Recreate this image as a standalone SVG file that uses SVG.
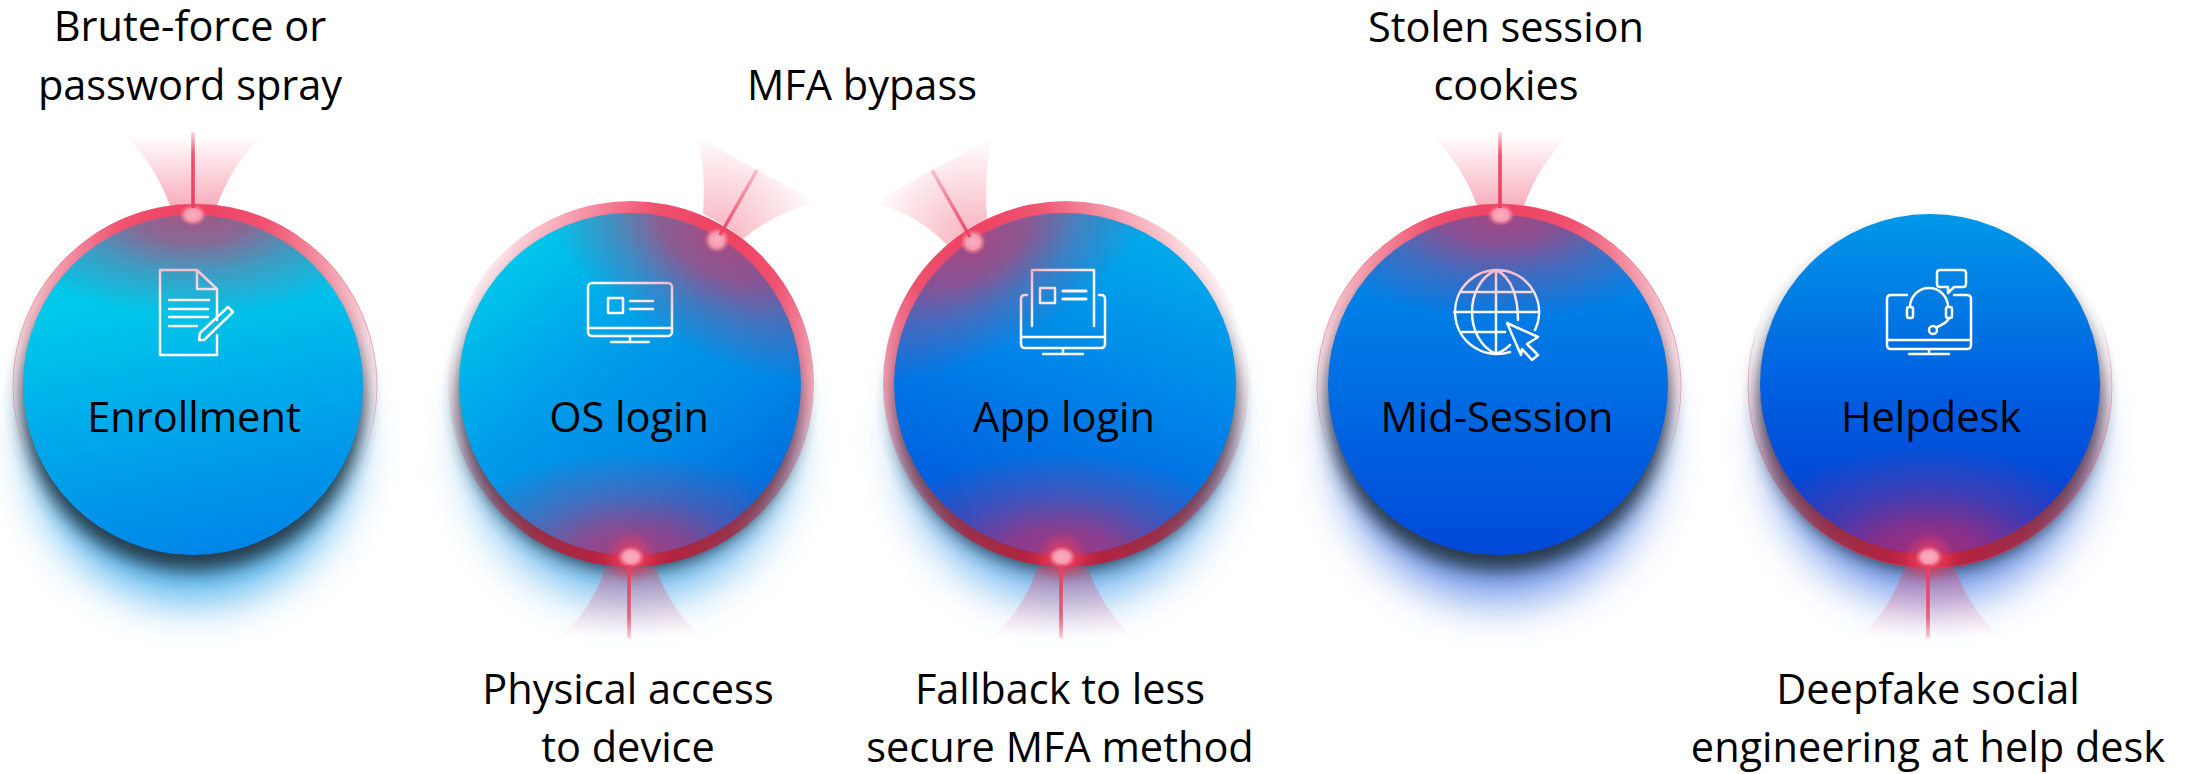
<svg xmlns="http://www.w3.org/2000/svg" xmlns:xlink="http://www.w3.org/1999/xlink" width="2197" height="774" viewBox="0 0 2197 774">
<style>
text{font-family:"Open Sans","Noto Sans","Liberation Sans",sans-serif;font-size:41.5px;fill:#000;text-anchor:middle}
.ic{fill:none;stroke:#fff;stroke-width:2.5;stroke-linejoin:round;stroke-linecap:round}
.ln{stroke-width:3.5;fill:none}
.sh{fill:#20303c;opacity:.92;filter:url(#b8)}
.gl{opacity:.85;filter:url(#b22)}
.edge{fill:none;stroke-width:1}
</style>
<defs>
<filter id="b8" x="-30%" y="-30%" width="160%" height="160%"><feGaussianBlur stdDeviation="9"/></filter>
<filter id="b22" x="-40%" y="-40%" width="180%" height="180%"><feGaussianBlur stdDeviation="22"/></filter>
<linearGradient id="g1" x1=".35" y1=".25" x2=".5" y2="1"><stop offset="0" stop-color="#00c8ea"/><stop offset=".5" stop-color="#00a6ea"/><stop offset="1" stop-color="#0086e8"/></linearGradient>
<linearGradient id="g2" x1=".1" y1=".15" x2=".75" y2="1"><stop offset="0" stop-color="#00c8ea"/><stop offset=".4" stop-color="#009cea"/><stop offset=".7" stop-color="#0088e6"/><stop offset="1" stop-color="#0068dc"/></linearGradient>
<linearGradient id="g3" x1=".75" y1=".1" x2=".45" y2="1"><stop offset="0" stop-color="#00a8ea"/><stop offset=".5" stop-color="#0080e8"/><stop offset="1" stop-color="#0058dc"/></linearGradient>
<linearGradient id="g4" x1=".5" y1="0" x2=".5" y2="1"><stop offset="0" stop-color="#0090e8"/><stop offset=".45" stop-color="#0072e4"/><stop offset="1" stop-color="#0048d8"/></linearGradient>
<linearGradient id="g5" x1=".5" y1="0" x2=".5" y2="1"><stop offset="0" stop-color="#0098e8"/><stop offset=".5" stop-color="#0060e0"/><stop offset="1" stop-color="#0038d0"/></linearGradient>
<radialGradient id="ov"><stop offset="0" stop-color="#e4285a" stop-opacity=".72"/><stop offset=".3" stop-color="#e4285a" stop-opacity=".6"/><stop offset=".6" stop-color="#e4285a" stop-opacity=".28"/><stop offset="1" stop-color="#e4285a" stop-opacity="0"/></radialGradient>
<radialGradient id="rg" gradientUnits="userSpaceOnUse" cx="0" cy="0" r="285"><stop offset="0" stop-color="#ee3f60"/><stop offset=".25" stop-color="#ee3f60" stop-opacity=".9"/><stop offset=".55" stop-color="#ee3f60" stop-opacity=".45"/><stop offset=".75" stop-color="#ee3f60" stop-opacity=".18"/><stop offset="1" stop-color="#ee3f60" stop-opacity="0"/></radialGradient>
<radialGradient id="rd" gradientUnits="userSpaceOnUse" cx="0" cy="0" r="285"><stop offset="0" stop-color="#e2304f"/><stop offset=".13" stop-color="#b42340"/><stop offset=".35" stop-color="#a82a45" stop-opacity=".85"/><stop offset=".55" stop-color="#b04058" stop-opacity=".45"/><stop offset=".75" stop-color="#d05070" stop-opacity=".18"/><stop offset="1" stop-color="#ee3f60" stop-opacity="0"/></radialGradient>
<radialGradient id="r1" xlink:href="#rg" cx="193" cy="215"/>
<radialGradient id="r2a" xlink:href="#rg" cx="717" cy="240"/>
<radialGradient id="r2b" xlink:href="#rd" cx="631" cy="557"/>
<radialGradient id="r3a" xlink:href="#rg" cx="973" cy="242"/>
<radialGradient id="r3b" xlink:href="#rd" cx="1062" cy="557"/>
<radialGradient id="r4" xlink:href="#rg" cx="1501" cy="215"/>
<radialGradient id="r5" xlink:href="#rd" cx="1929" cy="557"/>
<linearGradient id="sT" x1="0" y1="0" x2="0" y2="1"><stop offset="0" stop-color="#ee3f60" stop-opacity=".5"/><stop offset=".55" stop-color="#ee3f60" stop-opacity=".35"/><stop offset=".72" stop-color="#ee3f60" stop-opacity="0"/></linearGradient>
<linearGradient id="sB" x1="0" y1="1" x2="0" y2="0"><stop offset="0" stop-color="#ee3f60" stop-opacity=".5"/><stop offset=".55" stop-color="#ee3f60" stop-opacity=".35"/><stop offset=".72" stop-color="#ee3f60" stop-opacity="0"/></linearGradient>
<radialGradient id="halo"><stop offset="0" stop-color="#ee3f60" stop-opacity=".85"/><stop offset=".5" stop-color="#ee3f60" stop-opacity=".5"/><stop offset="1" stop-color="#ee3f60" stop-opacity="0"/></radialGradient>
<radialGradient id="dot"><stop offset="0" stop-color="#f9b0c0"/><stop offset=".55" stop-color="#f79cb0"/><stop offset="1" stop-color="#f4708a" stop-opacity="0"/></radialGradient>
<linearGradient id="fu" x1="0" y1="1" x2="0" y2="0"><stop offset="0" stop-color="#ee3f60" stop-opacity=".42"/><stop offset="1" stop-color="#ee3f60" stop-opacity="0"/></linearGradient>
<linearGradient id="fd" x1="0" y1="0" x2="0" y2="1"><stop offset="0" stop-color="#e83a60" stop-opacity=".4"/><stop offset="1" stop-color="#e83a60" stop-opacity="0"/></linearGradient>
<linearGradient id="lu" x1="0" y1="1" x2="0" y2="0"><stop offset="0" stop-color="#ee3f60"/><stop offset=".7" stop-color="#ee3f60" stop-opacity=".9"/><stop offset="1" stop-color="#ee3f60" stop-opacity=".2"/></linearGradient>
<linearGradient id="ld" x1="0" y1="0" x2="0" y2="1"><stop offset="0" stop-color="#ee3f60"/><stop offset=".7" stop-color="#ee3f60" stop-opacity=".8"/><stop offset="1" stop-color="#ee3f60" stop-opacity=".25"/></linearGradient>
<radialGradient id="fa" gradientUnits="userSpaceOnUse" cx="717" cy="240" r="106"><stop offset="0" stop-color="#ee3f60" stop-opacity=".42"/><stop offset="1" stop-color="#ee3f60" stop-opacity="0"/></radialGradient>
<radialGradient id="fb" gradientUnits="userSpaceOnUse" cx="973" cy="242" r="106"><stop offset="0" stop-color="#ee3f60" stop-opacity=".42"/><stop offset="1" stop-color="#ee3f60" stop-opacity="0"/></radialGradient>
<linearGradient id="la" gradientUnits="userSpaceOnUse" x1="717" y1="240" x2="757" y2="170"><stop offset="0" stop-color="#ee3f60"/><stop offset="1" stop-color="#ee3f60" stop-opacity=".25"/></linearGradient>
<linearGradient id="lb" gradientUnits="userSpaceOnUse" x1="973" y1="242" x2="932" y2="170"><stop offset="0" stop-color="#ee3f60"/><stop offset="1" stop-color="#ee3f60" stop-opacity=".25"/></linearGradient>
<clipPath id="c1"><circle cx="193" cy="385" r="170"/></clipPath>
<clipPath id="c2"><circle cx="630" cy="384" r="171"/></clipPath>
<clipPath id="c3"><circle cx="1065" cy="384" r="171"/></clipPath>
<clipPath id="c4"><circle cx="1498" cy="385" r="170"/></clipPath>
<clipPath id="c5"><circle cx="1930" cy="384" r="170"/></clipPath>
</defs>
<rect width="2197" height="774" fill="#fff"/>

<g id="enrollment">
<circle cx="193" cy="442" r="160" fill="#38a8ec" class="gl"/>
<circle cx="193" cy="400" r="171" class="sh"/>
<circle cx="195" cy="386" r="182" fill="url(#r1)"/>
<circle cx="195" cy="386" r="182" class="edge" stroke="url(#sT)"/>
<circle cx="193" cy="385" r="170" fill="url(#g1)"/>
<g class="ic"><path d="M217 320V289L197 270H160V355H217V335M197 270V289H217M169 300H209M169 309H208M169 317H208M169 326H197M200 333L228 307L233 312L204 340H199Z"/></g>
<g clip-path="url(#c1)"><ellipse cx="193" cy="210" rx="210" ry="105" fill="url(#ov)"/></g>
<ellipse cx="193" cy="215" rx="14" ry="11" fill="url(#dot)"/>
<text x="194" y="432">Enrollment</text>
</g>

<g id="os-login">
<circle cx="630" cy="442" r="160" fill="#58b0ee" class="gl"/>
<circle cx="630" cy="400" r="171" class="sh"/>
<circle cx="631" cy="384" r="183" fill="url(#r2a)"/>
<circle cx="631" cy="384" r="183" fill="url(#r2b)"/>
<circle cx="630" cy="384" r="171" fill="url(#g2)"/>
<g class="ic"><rect x="588" y="283" width="84" height="53" rx="4"/><path d="M588 328H672M630 336V342M611 342H649M630 301H653M630 309H653"/><rect x="608" y="298" width="15" height="15"/></g>
<g clip-path="url(#c2)"><ellipse cx="717" cy="240" rx="210" ry="110" transform="rotate(30 717 240)" fill="url(#ov)"/><ellipse cx="631" cy="562" rx="200" ry="110" fill="url(#ov)"/></g>
<circle cx="631" cy="557" r="26" fill="url(#halo)"/>
<circle cx="717" cy="240" r="13" fill="url(#dot)"/>
<ellipse cx="631" cy="557" rx="14" ry="11" fill="url(#dot)"/>
<text x="629" y="432">OS login</text>
</g>

<g id="app-login">
<circle cx="1065" cy="442" r="160" fill="#58a8ee" class="gl"/>
<circle cx="1065" cy="400" r="171" class="sh"/>
<circle cx="1066" cy="384" r="183" fill="url(#r3a)"/>
<circle cx="1066" cy="384" r="183" fill="url(#r3b)"/>
<circle cx="1065" cy="384" r="171" fill="url(#g3)"/>
<g class="ic"><path d="M1032 326V270H1094V326M1027 295H1025Q1021 295 1021 299V344Q1021 348 1025 348H1101Q1105 348 1105 344V299Q1105 295 1101 295H1099M1021 337H1105M1063 348V354M1043 354H1083"/><rect x="1040" y="288" width="15" height="15"/><path d="M1063 291H1086M1063 299H1086" style="stroke-width:3.2"/></g>
<g clip-path="url(#c3)"><ellipse cx="973" cy="242" rx="210" ry="110" transform="rotate(-30 973 242)" fill="url(#ov)"/><ellipse cx="1062" cy="562" rx="200" ry="110" fill="url(#ov)"/></g>
<circle cx="1062" cy="557" r="26" fill="url(#halo)"/>
<circle cx="973" cy="242" r="13" fill="url(#dot)"/>
<ellipse cx="1062" cy="557" rx="14" ry="11" fill="url(#dot)"/>
<text x="1064" y="432">App login</text>
</g>

<g id="mid-session">
<circle cx="1498" cy="442" r="160" fill="#5a88e8" class="gl"/>
<circle cx="1498" cy="400" r="171" class="sh"/>
<circle cx="1499" cy="386" r="182" fill="url(#r4)"/>
<circle cx="1499" cy="386" r="182" class="edge" stroke="url(#sT)"/>
<circle cx="1498" cy="385" r="170" fill="url(#g4)"/>
<g class="ic"><path d="M1535 330A42 42 0 1 0 1510 352M1496 270V354M1496 270C1464 284 1464 340 1496 354M1496 354Q1504 351 1510 345M1496 270C1512 277 1518 298 1518 320M1461 292H1531M1454 312H1538M1462 332H1505M1507 323L1538 337L1527 344L1538 355L1532 360L1522 349L1521 355Z"/></g>
<g clip-path="url(#c4)"><ellipse cx="1501" cy="210" rx="210" ry="110" fill="url(#ov)"/></g>
<ellipse cx="1501" cy="215" rx="14" ry="11" fill="url(#dot)"/>
<text x="1497" y="432">Mid-Session</text>
</g>

<g id="helpdesk">
<circle cx="1930" cy="442" r="160" fill="#5a88e8" class="gl"/>
<circle cx="1930" cy="400" r="171" class="sh"/>
<circle cx="1930" cy="386" r="182" fill="url(#r5)"/>
<circle cx="1930" cy="386" r="182" class="edge" stroke="url(#sB)"/>
<circle cx="1930" cy="384" r="170" fill="url(#g5)"/>
<g class="ic"><path d="M1907 295H1891Q1887 295 1887 299V345Q1887 349 1891 349H1967Q1971 349 1971 345V299Q1971 295 1967 295H1954M1887 340H1971M1929 349V354M1909 354H1949M1910 307A19 19 0 0 1 1948 307M1949 318Q1947 323 1937 327M1948 293V287H1940Q1937 287 1937 284V273Q1937 270 1940 270H1963Q1966 270 1966 273V284Q1966 287 1963 287H1954Z"/><rect x="1907" y="307" width="6" height="11" rx="2"/><rect x="1946" y="307" width="6" height="11" rx="2"/><circle cx="1933" cy="330" r="4"/></g>
<g clip-path="url(#c5)"><ellipse cx="1929" cy="562" rx="200" ry="115" fill="url(#ov)"/></g>
<circle cx="1929" cy="557" r="26" fill="url(#halo)"/>
<ellipse cx="1929" cy="557" rx="14" ry="11" fill="url(#dot)"/>
<text x="1931" y="432">Helpdesk</text>
</g>

<g id="connectors">
<path d="M170 205.6Q155 165 125 135H262Q232 165 217 205.5A182 182 0 0 0 170 205.6Z" fill="url(#fu)"/>
<path d="M1477 205.6Q1462 165 1432 135H1569Q1539 165 1524 205.5A182 182 0 0 0 1477 205.6Z" fill="url(#fu)"/>
<path d="M703 214Q706 165 697 137L817 203Q775 212 743 239A183 183 0 0 0 703 214Z" fill="url(#fa)"/>
<path d="M987 219Q984 165 993 137L873 203Q915 212 947 245A183 183 0 0 1 987 219Z" fill="url(#fb)"/>
<path d="M606 566.4Q590 612 560 637H702Q672 612 655 566.4A182 182 0 0 1 606 566.4Z" fill="url(#fd)"/>
<path d="M1038 566.4Q1022 612 992 637H1134Q1104 612 1087 566.4A182 182 0 0 1 1038 566.4Z" fill="url(#fd)"/>
<path d="M1905 566.4Q1889 612 1859 637H2001Q1971 612 1954 566.4A182 182 0 0 1 1905 566.4Z" fill="url(#fd)"/>
<rect x="191.2" y="132" width="3.6" height="76" fill="url(#lu)"/>
<rect x="1498.2" y="132" width="3.6" height="76" fill="url(#lu)"/>
<rect x="627.2" y="565" width="3.6" height="73" fill="url(#ld)"/>
<rect x="1059.2" y="565" width="3.6" height="73" fill="url(#ld)"/>
<rect x="1926.2" y="565" width="3.6" height="73" fill="url(#ld)"/>
<path d="M757 170L720 235" class="ln" stroke="url(#la)"/>
<path d="M932 170L970 237" class="ln" stroke="url(#lb)"/>
</g>

<g id="labels">
<text x="190" y="41">Brute-force or</text>
<text x="190" y="100">password spray</text>
<text x="862" y="100">MFA bypass</text>
<text x="1506" y="42">Stolen session</text>
<text x="1506" y="100">cookies</text>
<text x="628" y="704">Physical access</text>
<text x="628" y="762">to device</text>
<text x="1060" y="704">Fallback to less</text>
<text x="1060" y="762">secure MFA method</text>
<text x="1928" y="704">Deepfake social</text>
<text x="1928" y="762">engineering at help desk</text>
</g>
</svg>
